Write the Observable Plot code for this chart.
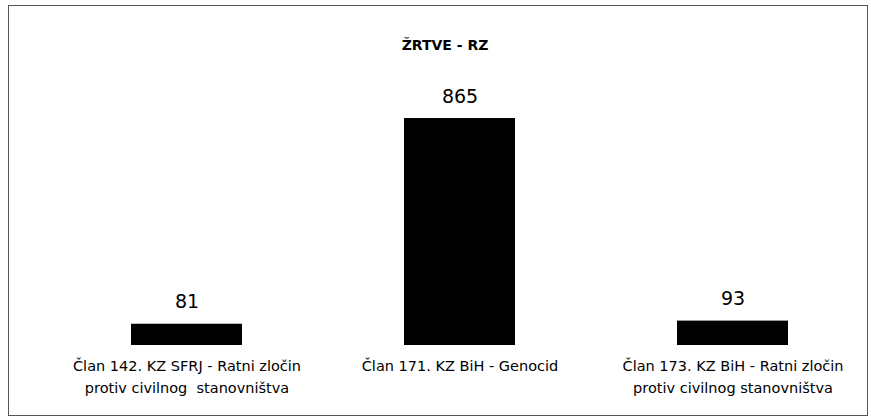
<!DOCTYPE html>
<html>
<head>
<meta charset="utf-8">
<script src="https://cdn.jsdelivr.net/npm/d3@7"></script>
<script src="https://cdn.jsdelivr.net/npm/@observablehq/plot@0.6"></script>
<style>
  html, body { margin: 0; padding: 0; background: #fff; }
  #wrap { position: relative; width: 871px; height: 419px; overflow: hidden; font-family: "DejaVu Sans", sans-serif; }
  #frame { position: absolute; left: 8px; top: 5px; width: 860px; height: 411px; box-sizing: border-box; border: 1px solid #555; }
  #title { position: absolute; left: 14px; width: 862px; top: 35px; line-height: 20px; text-align: center; font-weight: bold; font-size: 14px; color: #000; }
  #chart { position: absolute; left: 0; top: 0; }
</style>
</head>
<body>
<div id="wrap">
  <div id="frame"></div>
  <div id="chart"></div>
  <div id="title">ŽRTVE - RZ</div>
</div>
<script>
const categories = [
  "Član 142. KZ SFRJ - Ratni zločin\nprotiv civilnog  stanovništva",
  "Član 171. KZ BiH - Genocid",
  "Član 173. KZ BiH - Ratni zločin\nprotiv civilnog stanovništva"
];
const values = [81, 865, 93];

const data = categories.map((c, i) => ({category: c, value: values[i]}));

const chart = Plot.plot({
  width: 871,
  height: 419,
  marginLeft: 50.5,
  marginRight: 1.5,
  marginTop: 82.6,
  marginBottom: 74,
  style: {background: "transparent", fontFamily: "DejaVu Sans, sans-serif", color: "#000"},
  x: {domain: categories, paddingInner: 0.593, paddingOuter: 0.2965, label: null},
  y: {domain: [0, 1000], axis: null},
  marks: [
    Plot.axisX({tickSize: 0, tickPadding: 10, fontSize: 14.5, lineHeight: 1.52, label: null, tickFormat: d => d}),
    Plot.barY(data, {x: "category", y: "value", fill: "#000"}),
    Plot.text(data, {x: "category", y: "value", text: d => String(d.value), dy: -22, fontSize: 19, fill: "#000"})
  ]
});
document.getElementById("chart").appendChild(chart);
</script>
</body>
</html>
